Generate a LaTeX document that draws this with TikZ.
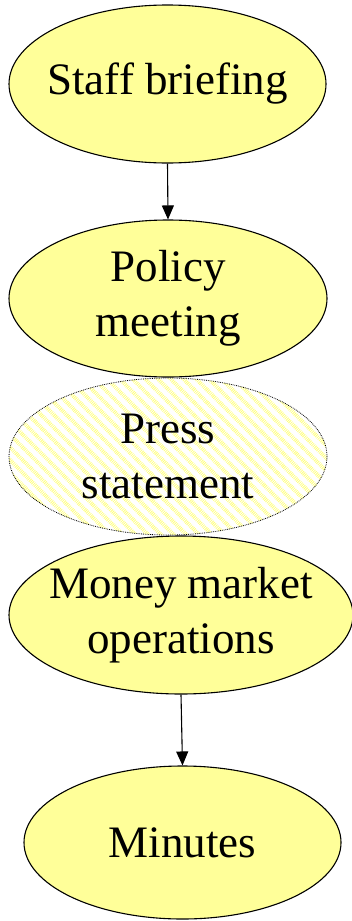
\documentclass[tikz,border=0pt]{standalone}
\usepackage{fontspec}
\setmainfont{Liberation Serif}
\usetikzlibrary{shapes.geometric,arrows.meta,patterns.meta}
\definecolor{fillyellow}{HTML}{FFFF99}
\definecolor{stripeyellow}{HTML}{FFFF80}
\begin{document}
\begin{tikzpicture}[x=1pt,y=1pt,
  txt/.style={align=center, font=\fontsize{45}{55}\selectfont, inner sep=0pt},
  stage/.style={ellipse, draw=black, line width=1.1pt, fill=fillyellow, inner sep=0pt},
  hatched/.style={ellipse, draw=black, line width=0.8pt, densely dotted,
    pattern={Lines[angle=-45,distance=9pt,line width=4pt]}, pattern color=stripeyellow,
    inner sep=0pt},
  flow/.style={-{Triangle[length=14pt,width=12pt]}, line width=1.1pt}]
\useasboundingbox (0,0) rectangle (352,-921);
\node[stage, minimum width=317pt, minimum height=158pt] (staff) at (167.5,-84) {};
\node[txt] (staffT) at (staff.center) {Staff briefing};
\node[stage, minimum width=318pt, minimum height=157pt] (policy) at (168,-298.5) {};
\node[txt] (policyT) at (policy.center) {Policy\\meeting};
\node[hatched, minimum width=318pt, minimum height=157pt] (press) at (168,-456.5) {};
\node[txt] (pressT) at (press.center) {Press\\statement};
\node[stage, minimum width=344pt, minimum height=158pt] (money) at (181,-615) {};
\node[txt] (moneyT) at (money.center) {Money market\\operations};
\node[stage, minimum width=317pt, minimum height=153pt] (minutes) at (182.5,-842.5) {};
\node[txt] (minutesT) at (minutes.center) {Minutes};
\draw[flow] (staff.south) -- (policy.north);
\draw[flow] (money.south) -- (minutes.north);
\end{tikzpicture}
\end{document}
